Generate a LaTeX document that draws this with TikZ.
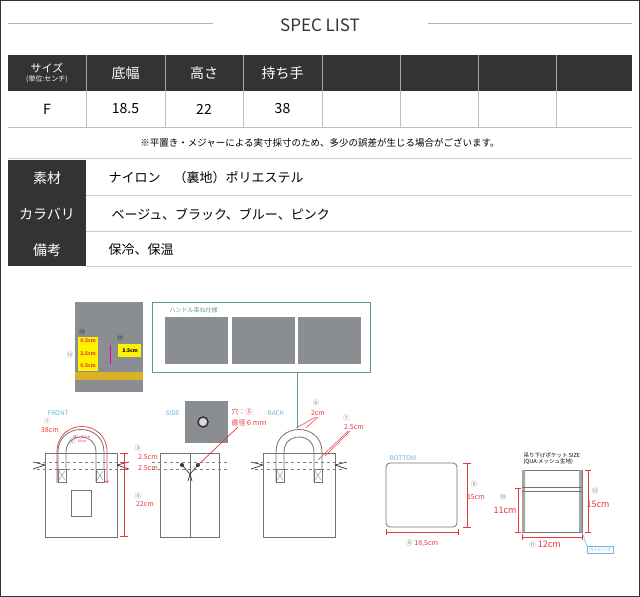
\documentclass[tikz,border=0pt]{standalone}
\usepackage{fontspec}
\setmainfont{Noto Sans CJK JP}
\usetikzlibrary{positioning}
\definecolor{darkcell}{HTML}{333333}
\definecolor{dimred}{HTML}{E8383D}
\definecolor{viewblue}{HTML}{6EB4E0}
\definecolor{boxgreen}{HTML}{5A9E7A}
\definecolor{photogray}{HTML}{8A8E92}

\begin{document}
\begin{tikzpicture}[x=1pt, y=-1pt,
        head/.style={text=white, font=\fontsize{14}{14}\selectfont},
        cell/.style={font=\fontsize{14}{14}\selectfont},
        rowtext/.style={anchor=west, font=\fontsize{13}{13}\selectfont},
        view/.style={text=viewblue, font=\fontsize{6.5}{6.5}\selectfont},
        dim/.style={dimred, line width=0.7pt},
        dimtext/.style={text=dimred, font=\fontsize{7}{7}\selectfont, inner sep=0.5pt},
        num/.style={text=gray, font=\fontsize{6.5}{6.5}\selectfont, inner sep=0.5pt},
        bag/.style={draw=gray!90!black, line width=0.8pt},
        photo/.style={fill=photogray, draw=none}
    ]
    \useasboundingbox (0,0) rectangle (640,597);
    \draw[darkcell, line width=1.2pt] (0.6,0.6) rectangle (639.4,596.4);

    % title
    \node (title) [font=\fontsize{17}{17}\selectfont, text=darkcell] at (320,25) {SPEC LIST};
    \draw[gray!60] (8,23) -- (213,23);
    \draw[gray!60] (428,23) -- (632,23);

    % size table
    \fill[darkcell] (8,55) rectangle (632,91);
    \foreach \x in {86,165,243,322,400,478,556} {
        \draw[gray!70] (\x,55) -- (\x,91);
        \draw[gray!50] (\x,91) -- (\x,127);
    }
    \draw[gray!50] (8,127) -- (632,127);
    \node (size) [text=white, align=center, font=\fontsize{11}{10}\selectfont] at (47,73)
        {サイズ\\[-1pt]{\fontsize{7}{7}\selectfont (単位:センチ)}};
    \node (hw) [head] at (125.5,73) {底幅};
    \node (hh) [head] at (204,73) {高さ};
    \node (hg) [head] at (282.5,73) {持ち手};
    \node (vf) [cell] at (47,109) {F};
    \node (vw) [cell] at (125.5,109) {18.5};
    \node (vh) [cell] at (204,109) {22};
    \node (vg) [cell] at (282.5,109) {38};
    \node (note) [font=\fontsize{9.5}{9.5}\selectfont] at (320,143)
        {※平置き・メジャーによる実寸採寸のため、多少の誤差が生じる場合がございます。};
    \draw[gray!40, line width=1pt] (8,158) -- (632,158);

    % material table
    \fill[darkcell] (8,160) rectangle (86,266);
    \foreach \y in {195,231,266} \draw[gray!40, line width=0.8pt] (86,\y) -- (632,\y);
    \node (mat) [head] at (47,178) {素材};
    \node (col) [head] at (47,214) {カラバリ};
    \node (rem) [head] at (47,250) {備考};
    \node (matv) [rowtext] at (105,178) {ナイロン\quad （裏地）ポリエステル};
    \node (colv) [rowtext] at (108,214) {ベージュ、ブラック、ブルー、ピンク};
    \node (remv) [rowtext] at (105,250) {保冷、保温};

    % detail photo
    \fill[photo] (75,302) rectangle (143,392);
    \fill[brown!60!yellow] (75,372) rectangle (143,380);
    \fill[yellow] (78,337) rectangle (98,371);
    \fill[yellow] (118,344) rectangle (141,357);
    \node (pa) [text=dimred, font=\bfseries\fontsize{5}{5}\selectfont] at (88,341) {0.5cm};
    \node (pb) [text=dimred, font=\bfseries\fontsize{5}{5}\selectfont] at (88,354) {2.5cm};
    \node (pc) [text=dimred, font=\bfseries\fontsize{5}{5}\selectfont] at (88,366) {0.5cm};
    \node (pd) [font=\bfseries\fontsize{5}{5}\selectfont] at (130,350.5) {3.5cm};
    \draw[magenta, line width=0.8pt] (110,345) -- (110,364);
    \node (p15) [num] at (70,355) {⑮};
    \node (p13) [num, text=darkcell] at (82,332) {⑬};
    \node (p14) [num, text=darkcell] at (120,338) {⑭};

    % handle photos
    \draw[boxgreen, line width=0.8pt] (152,302) rectangle (370,372);
    \node (hb) [text=boxgreen, font=\fontsize{6}{6}\selectfont, anchor=west] at (166,310) {ハンドル束ね仕様};
    \foreach \x in {165,232,298} \fill[photo] (\x,317) rectangle ++(63,47);
    \draw[boxgreen, line width=0.8pt] (297,372) -- (297,428);

    % view labels
    \node (front) [view, anchor=west] at (44,413) {FRONT};
    \node (side) [view, anchor=west] at (162,413) {SIDE};
    \node (back) [view, anchor=west] at (264,413) {BACK};
    \node (bottom) [view, anchor=west] at (386,458) {BOTTOM};

    % bags
    \foreach \xa/\xb in {45/117,160/219,263/335} {
        \draw[bag] (\xa,453) rectangle (\xb,537);
        \draw[gray, dashed, line width=0.4pt] (\xa-8,462) -- (\xb+8,462);
        \draw[gray, dashed, line width=0.4pt] (\xa-8,469) -- (\xb+8,469);
    }
    \foreach \xa in {45,263} {
        \draw[darkcell, line width=0.7pt] (\xa,465) -- (\xa-12,462) (\xa,465) -- (\xa-12,469);
        \draw[darkcell, line width=0.7pt] (\xa+72,465) -- (\xa+84,462) (\xa+72,465) -- (\xa+84,469);
        % handle
        \draw[bag] (\xa+13,482) -- (\xa+13,452) .. controls (\xa+13,422) and (\xa+59,422) .. (\xa+59,452) -- (\xa+59,482);
        \draw[bag] (\xa+21,482) -- (\xa+21,452) .. controls (\xa+21,432) and (\xa+51,432) .. (\xa+51,452) -- (\xa+51,482);
        \foreach \s in {13,51} {
            \draw[bag, fill=white] (\xa+\s,469) rectangle (\xa+\s+8,482);
            \draw[gray, line width=0.4pt] (\xa+\s+1,471) -- (\xa+\s+7,480) (\xa+\s+7,471) -- (\xa+\s+1,480);
        }
    }
    \draw[bag] (71,490) rectangle (91,516);
    \draw[bag] (190,453) -- (190,537);
    \fill[darkcell] (182,465) circle (2) (198,465) circle (2);
    \draw[darkcell, line width=0.7pt] (182,465) -- (190,474) -- (198,465) (190,474) -- (188,481) (190,474) -- (192,481);

    % front dimensions
    \draw[dim, ->] (57,483) -- (57,452) .. controls (57,418) and (107,418) .. (107,452) -- (107,483);
    \node (n1) [num] at (47,421) {①};
    \node (d1) [dimtext] at (50,430) {38cm};
    \node (n2) [num] at (72,441) {②};
    \node (d2) [dimtext, font=\fontsize{3.5}{3.5}\selectfont, align=center] at (82,439) {縫い合わせ\\18cm};
    \draw[dim] (124,453) -- (124,536);
    \foreach \y in {453,462,469,536} \draw[dim] (120,\y) -- (128,\y);
    \node (n3) [num] at (138,448) {③};
    \node (d3a) [dimtext] at (148,457) {2.5cm};
    \node (d3b) [dimtext] at (148,468) {2.5cm};
    \node (n4) [num] at (138,496) {④};
    \node (d4) [dimtext] at (145,504) {22cm};

    % side eyelet
    \fill[photo] (185,401) rectangle (228,443);
    \draw[darkcell, fill=gray!30, line width=1.5pt] (203,422) circle (5);
    \node (n5) [dimtext, anchor=west] at (231,412) {穴：⑤};
    \node (d5) [dimtext, anchor=west] at (231,423) {直径６ｍｍ};
    \draw[dim] (238,427) -- (198,465);

    % back dimensions
    \node (n6) [num] at (316,403) {⑥};
    \node (d6) [dimtext] at (318,413) {2cm};
    \draw[dim, line width=0.5pt] (316,417) -- (296,428) (318,417) -- (306,428);
    \node (n7) [num] at (346,418) {⑦};
    \node (d7) [dimtext] at (354,427) {2.5cm};
    \draw[dim, line width=0.5pt] (348,431) -- (318,460) (350,431) -- (325,456);

    % bottom
    \draw[bag, rounded corners=4pt] (386,463) rectangle (457,527);
    \draw[dim] (467,463) -- (467,527);
    \foreach \y in {463,527} \draw[dim] (463,\y) -- (471,\y);
    \node (n8) [num] at (474,484) {⑧};
    \node (d8) [dimtext] at (476,497) {15cm};
    \draw[dim] (386,532) -- (458,532);
    \foreach \x in {386,458} \draw[dim] (\x,529) -- (\x,535);
    \node (d9) [dimtext] at (422,543) {{\color{gray}⑨} 18,5cm};

    % pocket
    \node (pt) [font=\fontsize{5.5}{6}\selectfont, align=left, anchor=west] at (520,459) {吊り下げポケット SIZE\\(QUA:メッシュ生地)};
    \draw[bag] (522,470) rectangle (582,532);
    \fill[gray!70] (522,470) rectangle (525,532) (579,470) rectangle (582,532);
    \draw[bag, line width=0.6pt] (522,487) -- (582,487) (522,491) -- (582,491);
    \draw[dim] (518,488) -- (518,532);
    \foreach \y in {488,532} \draw[dim] (515,\y) -- (521,\y);
    \node (n10) [num] at (503,497) {⑩};
    \node (d10) [dimtext, font=\fontsize{9}{9}\selectfont] at (505,510) {11cm};
    \draw[dim] (588,470) -- (588,532);
    \foreach \y in {470,532} \draw[dim] (585,\y) -- (591,\y);
    \node (n12) [num] at (595,491) {⑫};
    \node (d12) [dimtext, font=\fontsize{9}{9}\selectfont] at (598,504) {15cm};
    \draw[dim] (522,537) -- (582,537);
    \foreach \x in {522,582} \draw[dim] (\x,534) -- (\x,540);
    \node (d11) [dimtext, font=\fontsize{9}{9}\selectfont] at (545,545) {{\fontsize{6.5}{6.5}\selectfont\color{gray}⑪} 12cm};
    \node (pip) [draw=viewblue, text=viewblue, font=\fontsize{4.5}{4.5}\selectfont, inner sep=1.5pt] at (600,550) {パイピング};
    \draw[viewblue, line width=0.6pt] (582,532) -- (pip.north west);
\end{tikzpicture}
\end{document}
